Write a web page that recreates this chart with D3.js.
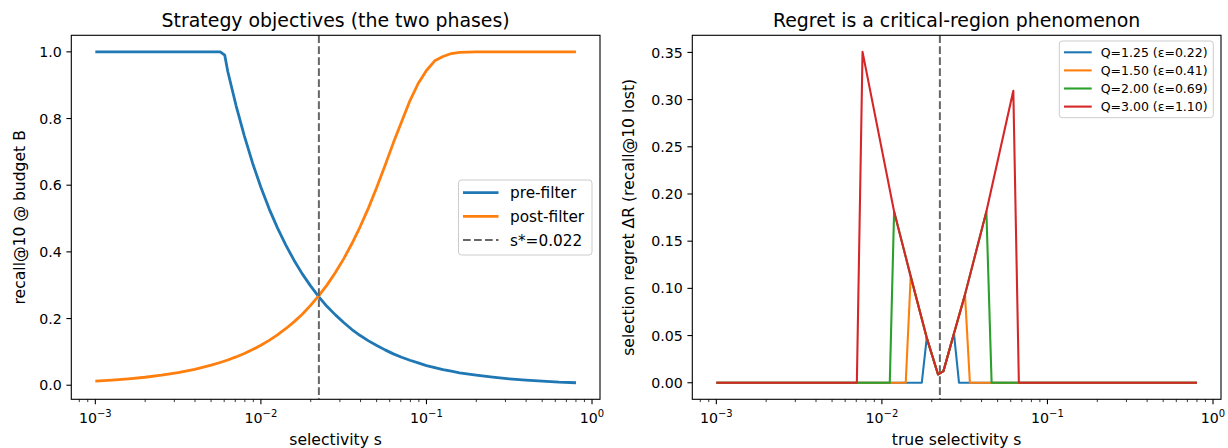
<!DOCTYPE html>
<html><head><meta charset="utf-8">
<script src="https://cdn.jsdelivr.net/npm/d3@7/dist/d3.min.js"></script>
<style>body{margin:0;background:#fff} text{font-family:"DejaVu Sans",sans-serif;fill:#000}</style>
</head><body><svg id="c" width="1228" height="448"></svg>
<script>
// ---------- data ----------
const selectivity = [0.001,0.001259,0.001585,0.001995,0.002512,0.003162,0.003981,0.005012,0.00568,0.00605,0.00631,0.007079,0.007943,0.008913,0.01,0.01122,0.012589,0.014125,0.015849,0.017783,0.019953,0.022387,0.025119,0.028184,0.031623,0.035481,0.039811,0.044668,0.050119,0.056234,0.063096,0.070795,0.079433,0.089125,0.1,0.112202,0.125893,0.141254,0.158489,0.199526,0.251189,0.316228,0.398107,0.501187,0.630957,0.8];
const preFilter = [1,1,1,1,1,1,1,1,1,0.99,0.941,0.839,0.748,0.666,0.594,0.529,0.472,0.421,0.375,0.334,0.298,0.265,0.236,0.211,0.188,0.167,0.149,0.133,0.119,0.106,0.094,0.084,0.075,0.067,0.059,0.053,0.047,0.042,0.037,0.030,0.024,0.019,0.015,0.012,0.009,0.0074];
const postFilter = [0.012,0.0151,0.019,0.0239,0.0301,0.0379,0.0478,0.0601,0.0682,0.0726,0.0757,0.0849,0.0953,0.107,0.12,0.1346,0.151,0.1695,0.19,0.213,0.2394,0.2686,0.301,0.338,0.379,0.425,0.476,0.532,0.594,0.659,0.727,0.79,0.853,0.905,0.944,0.973,0.986,0.995,0.9985,1,1,1,1,1,1,1];
const sStar = 0.0224;
const sStarLabel = "s*=0.022";

const q125S = [0.001,0.01742,0.01866,0.02184,0.02354,0.02725,0.02923,0.8];
const q125R = [0,0,0.0476,0.0088,0.0123,0.0521,0,0];
const q150S = [0.001,0.01393,0.01493,0.01866,0.02184,0.02354,0.02725,0.03177,0.0340,0.8];
const q150R = [0,0,0.1127,0.0476,0.0088,0.0123,0.0521,0.0934,0,0];
const q200S = [0.001,0.01116,0.01185,0.01493,0.01866,0.02184,0.02354,0.02725,0.03177,0.04277,0.0460,0.8];
const q200R = [0,0,0.1815,0.1127,0.0476,0.0088,0.0123,0.0521,0.0934,0.1815,0,0];
const q300S = [0.001,0.00706,0.00764,0.01185,0.01493,0.01866,0.02184,0.02354,0.02725,0.03177,0.04277,0.0622,0.0672,0.8];
const q300R = [0,0,0.3506,0.1815,0.1127,0.0476,0.0088,0.0123,0.0521,0.0934,0.1815,0.3094,0,0];
const regretLabels = ["Q=1.25 (ε=0.22)","Q=1.50 (ε=0.41)","Q=2.00 (ε=0.69)","Q=3.00 (ε=1.10)"];

const xMajorTicks = [1e-3,1e-2,1e-1,1];
const xTickExp = ["−3","−2","−1","0"];
const leftYTicks = [0,0.2,0.4,0.6,0.8,1.0];
const leftYLabels = ["0.0","0.2","0.4","0.6","0.8","1.0"];
const rightYTicks = [0,0.05,0.10,0.15,0.20,0.25,0.30,0.35];
const rightYLabels = ["0.00","0.05","0.10","0.15","0.20","0.25","0.30","0.35"];

const C = {blue:"#1f77b4",orange:"#ff7f0e",green:"#2ca02c",red:"#d62728",dash:"#666666"};

// ---------- drawing ----------
const svg = d3.select("#c");
svg.append("rect").attr("width",1228).attr("height",448).attr("fill","#fff");

function logDomain(lo,hi){const a=Math.log10(lo),b=Math.log10(hi),m=0.05*(b-a);return [Math.pow(10,a-m),Math.pow(10,b+m)];}
function linDomain(lo,hi){const m=0.05*(hi-lo);return [lo-m,hi+m];}

function panel(o){
  const g = svg.append("g");
  const x = d3.scaleLog().domain(logDomain(0.001,0.8)).range([o.x0,o.x1]);
  const y = d3.scaleLinear().domain(linDomain(o.ymin,o.ymax)).range([o.y1,o.y0]);
  const clipId = "clip"+o.id;
  svg.append("clipPath").attr("id",clipId).append("rect").attr("x",o.x0).attr("y",o.y0).attr("width",o.x1-o.x0).attr("height",o.y1-o.y0);
  const plot = g.append("g").attr("clip-path",`url(#${clipId})`);
  // x ticks
  const [d0,d1]=x.domain();
  const minors=[];
  for(let e=-4;e<=0;e++)for(let m=2;m<=9;m++){const v=m*Math.pow(10,e); if(v>=d0&&v<=d1)minors.push(v);}
  g.selectAll(null).data(minors).enter().append("line")
    .attr("x1",d=>x(d)).attr("x2",d=>x(d)).attr("y1",o.y1).attr("y2",o.y1+2.8).attr("stroke","#000").attr("stroke-width",0.8);
  g.selectAll(null).data(xMajorTicks).enter().append("line")
    .attr("x1",d=>x(d)).attr("x2",d=>x(d)).attr("y1",o.y1).attr("y2",o.y1+4.9).attr("stroke","#000").attr("stroke-width",1.1);
  xMajorTicks.forEach((t,i)=>{
    const tx = g.append("text").attr("x",x(t)).attr("y",o.y1+24).attr("text-anchor","middle").attr("font-size",14.2);
    tx.append("tspan").text("10");
    tx.append("tspan").attr("dy",-6.2).attr("font-size",10).text(xTickExp[i]);
  });
  // y ticks
  g.selectAll(null).data(o.yTicks).enter().append("line")
    .attr("x1",o.x0-4.9).attr("x2",o.x0).attr("y1",d=>y(d)).attr("y2",d=>y(d)).attr("stroke","#000").attr("stroke-width",1.1);
  g.selectAll(null).data(o.yTicks).enter().append("text")
    .attr("x",o.x0-9.4).attr("y",d=>y(d)).attr("dy","0.36em").attr("text-anchor","end").attr("font-size",14.2)
    .text((d,i)=>o.yLabels[i]);
  // titles / labels
  g.append("text").attr("x",(o.x0+o.x1)/2).attr("y",26.5).attr("text-anchor","middle").attr("font-size",18.9).text(o.title);
  g.append("text").attr("x",(o.x0+o.x1)/2).attr("y",445).attr("text-anchor","middle").attr("font-size",15.6).text(o.xlabel);
  g.append("text").attr("transform",`translate(${o.ylabX},${(o.y0+o.y1)/2}) rotate(-90)`).attr("text-anchor","middle").attr("font-size",15.6).text(o.ylabel);
  return {g,plot,x,y};
}

// Left panel
const L = panel({id:"L",x0:71.3,x1:600,y0:35.3,y1:399.3,ymin:0.0074,ymax:1.0,yTicks:leftYTicks,yLabels:leftYLabels,
  title:"Strategy objectives (the two phases)",xlabel:"selectivity s",ylabel:"recall@10 @ budget B",ylabX:25});
const lineL = (ys)=>d3.line().x((d,i)=>L.x(selectivity[i])).y(d=>L.y(d))(ys);
L.plot.append("path").attr("d",lineL(preFilter)).attr("fill","none").attr("stroke",C.blue).attr("stroke-width",2.8).attr("stroke-linejoin","round");
L.plot.append("path").attr("d",lineL(postFilter)).attr("fill","none").attr("stroke",C.orange).attr("stroke-width",2.8).attr("stroke-linejoin","round");
L.plot.append("line").attr("x1",L.x(sStar)).attr("x2",L.x(sStar)).attr("y1",35.3).attr("y2",399.3)
  .attr("stroke",C.dash).attr("stroke-width",2).attr("stroke-dasharray","7.7,3.3");

// Right panel
const R = panel({id:"R",x0:692.3,x1:1221,y0:35.3,y1:399.3,ymin:0,ymax:0.3506,yTicks:rightYTicks,yLabels:rightYLabels,
  title:"Regret is a critical-region phenomenon",xlabel:"true selectivity s",ylabel:"selection regret ΔR (recall@10 lost)",ylabX:634});
R.plot.append("line").attr("x1",R.x(sStar)).attr("x2",R.x(sStar)).attr("y1",35.3).attr("y2",399.3)
  .attr("stroke",C.dash).attr("stroke-width",2).attr("stroke-dasharray","7.7,3.3");
const regretSeries = [[q125S,q125R,C.blue],[q150S,q150R,C.orange],[q200S,q200R,C.green],[q300S,q300R,C.red]];
regretSeries.forEach(([xs,ys,col])=>{
  const p = d3.line().x((d,i)=>R.x(xs[i])).y(d=>R.y(d))(ys);
  R.plot.append("path").attr("d",p).attr("fill","none").attr("stroke",col).attr("stroke-width",2.1).attr("stroke-linejoin","round");
});

// frames
[[71.3,600],[692.3,1221]].forEach(([a,b])=>{
  svg.append("rect").attr("x",a).attr("y",35.3).attr("width",b-a).attr("height",364).attr("fill","none").attr("stroke","#000").attr("stroke-width",1.1);
});

// Left legend
(function(){
  const g = svg.append("g");
  g.append("rect").attr("x",458.5).attr("y",180).attr("width",133.5).attr("height",75).attr("rx",3)
    .attr("fill","#fff").attr("fill-opacity",0.8).attr("stroke","#cccccc").attr("stroke-width",1);
  const items=[["pre-filter",C.blue,null],["post-filter",C.orange,null],[sStarLabel,C.dash,"7.7,3.3"]];
  items.forEach((it,i)=>{
    const yy = 192.7+i*23.7;
    g.append("line").attr("x1",463).attr("x2",498.5).attr("y1",yy).attr("y2",yy).attr("stroke",it[1])
      .attr("stroke-width",it[2]?2:2.8).attr("stroke-dasharray",it[2]);
    g.append("text").attr("x",510).attr("y",yy).attr("dy","0.36em").attr("font-size",15.3).text(it[0]);
  });
})();

// Right legend
(function(){
  const g = svg.append("g");
  g.append("rect").attr("x",1059.3).attr("y",41).attr("width",154).attr("height",76.7).attr("rx",3)
    .attr("fill","#fff").attr("fill-opacity",0.8).attr("stroke","#cccccc").attr("stroke-width",1);
  const cols=[C.blue,C.orange,C.green,C.red];
  regretLabels.forEach((lab,i)=>{
    const yy = 52.3+i*18.1;
    g.append("line").attr("x1",1064).attr("x2",1091.7).attr("y1",yy).attr("y2",yy).attr("stroke",cols[i]).attr("stroke-width",2.1);
    g.append("text").attr("x",1100.7).attr("y",yy).attr("dy","0.36em").attr("font-size",12.5).text(lab);
  });
})();
</script></body></html>
